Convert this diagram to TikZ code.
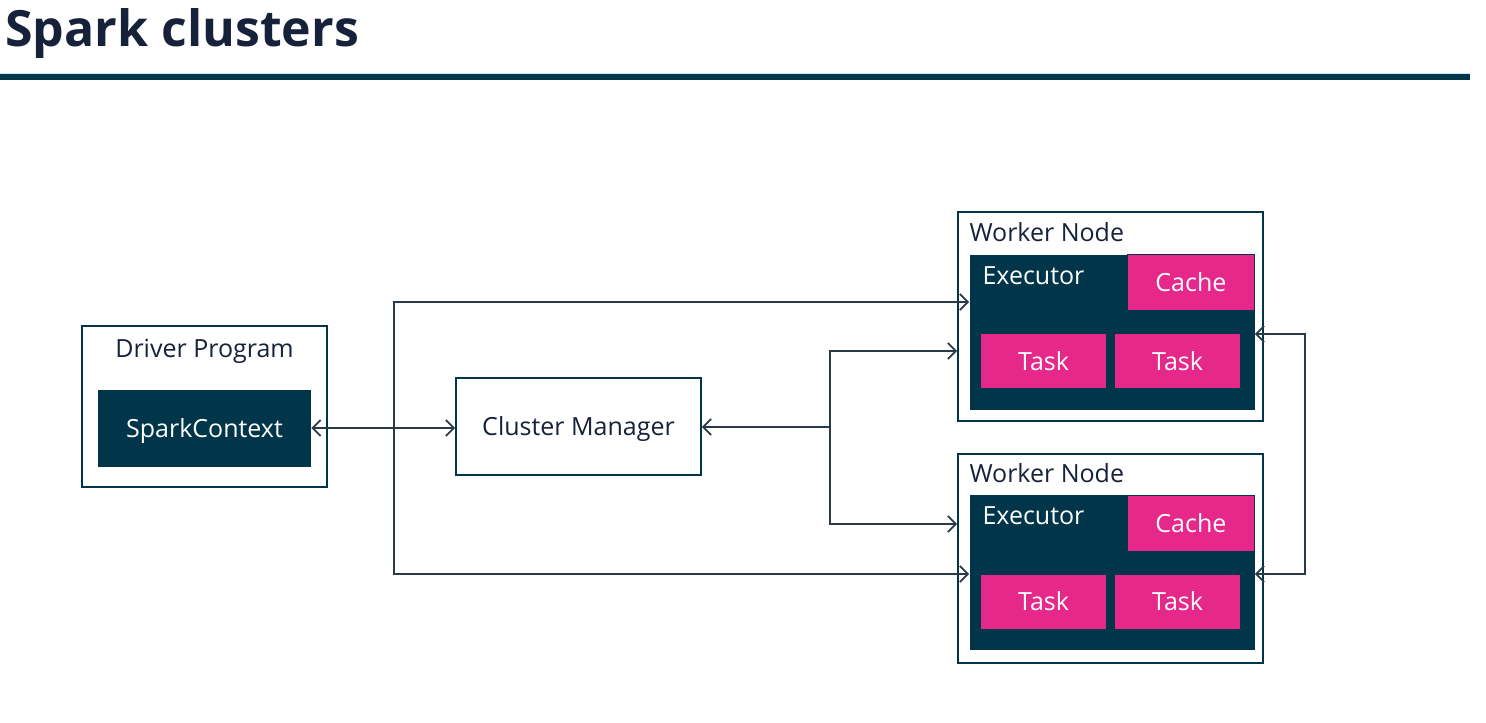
\documentclass[tikz,border=0pt]{standalone}
\usepackage{fontspec}
\setmainfont{Open Sans}
\usetikzlibrary{positioning,calc,arrows.meta}
\definecolor{sparkteal}{HTML}{01364A}
\definecolor{sparkpink}{HTML}{E6288A}
\definecolor{titlenavy}{HTML}{16213A}
\definecolor{linegray}{HTML}{2B3A46}
\tikzset{
    every node/.style={font=\fontsize{12.5}{15}\selectfont},
    outerbox/.style={draw=sparkteal, line width=0.9pt, fill=white, inner sep=0pt, text=titlenavy,
        text height=9pt, text depth=0pt},
    darkbox/.style={fill=sparkteal, text=white, inner sep=0pt, text height=9pt, text depth=0pt},
    pinkbox/.style={fill=sparkpink, draw=sparkteal, line width=0.5pt, text=white, inner sep=0pt,
        minimum width=63pt, minimum height=27.5pt, text height=9pt, text depth=0pt},
    txt/.style={inner sep=0pt, text=titlenavy},
    arrow/.style={>={Straight Barb[length=4pt,width=8pt]}, ->, line width=0.9pt, draw=linegray},
}
\begin{document}
\begin{tikzpicture}[x=0.5pt, y=-0.5pt]
\useasboundingbox (0,0) rectangle (1486,722);
% title and rule under it
\node[txt, anchor=base west, font=\fontsize{25}{30}\selectfont\bfseries] (title) at (5,47) {Spark clusters};
\fill[sparkteal] (0,74) rectangle (1470,80);
\draw[cyan!25, line width=0.5pt] (0,73.5) -- (1470,73.5);

% driver side
\node[outerbox, minimum width=122.5pt, minimum height=80.5pt] (driver) at (204.5,406.5) {};
\node[txt, anchor=base] (driverlbl) at (204.5,357) {Driver Program};
\node[darkbox, minimum width=106.5pt, minimum height=38.5pt] (ctx) at (204.5,428.5) {SparkContext};
\node[outerbox, minimum width=122.5pt, minimum height=48.5pt] (cm) at (578.5,426.5) {Cluster Manager};

% first worker
\node[outerbox, minimum width=152.5pt, minimum height=104.5pt] (w1) at (1110.5,316.5) {};
\node[txt, anchor=base west] (w1lbl) at ($(w1.north west)+(12,30)$) {Worker Node};
\node[darkbox, minimum width=142.5pt, minimum height=77.5pt, anchor=north west] (e1) at ($(w1.north west)+(12,43)$) {};
\node[txt, text=white, anchor=base west] (e1lbl) at ($(e1.north west)+(13,30)$) {Executor};
\node[pinkbox, minimum width=63.5pt, minimum height=28pt, anchor=north east] (c1) at (e1.north east) {Cache};
\node[pinkbox, anchor=north west] (t1a) at ($(e1.north west)+(11,79)$) {Task};
\node[pinkbox, right=3.5pt of t1a] (t1b) {Task};

% second worker, same layout
\node[outerbox, minimum width=152.5pt, minimum height=104.5pt, below=15.5pt of w1] (w2) {};
\node[txt, anchor=base west] (w2lbl) at ($(w2.north west)+(12,30)$) {Worker Node};
\node[darkbox, minimum width=142.5pt, minimum height=77.5pt, anchor=north west] (e2) at ($(w2.north west)+(12,42)$) {};
\node[txt, text=white, anchor=base west] (e2lbl) at ($(e2.north west)+(13,30)$) {Executor};
\node[pinkbox, minimum width=63.5pt, minimum height=28pt, anchor=north east] (c2) at (e2.north east) {Cache};
\node[pinkbox, anchor=north west] (t2a) at ($(e2.north west)+(11,79)$) {Task};
\node[pinkbox, right=3.5pt of t2a] (t2b) {Task};

% branch points and line ends
\coordinate (jl) at (394,428);
\coordinate (jr) at (830,427);
\coordinate (e1in) at (e1.west |- 0,302);
\coordinate (e2in) at (e2.west |- 0,574);
\coordinate (w1in) at (w1.west |- 0,351);
\coordinate (w2in) at (w2.west |- 0,524);
\coordinate (e1out) at (e1.east |- 0,334);
\coordinate (e2out) at (e2.east |- 0,574);
\coordinate (rbot) at (1305,574);

\draw[arrow, <->] (ctx.east |- jl) -- (cm.west |- jl);
\draw[arrow] (jl) |- (e1in);
\draw[arrow] (jl) |- (e2in);
\draw[arrow] (jr) -- (cm.east |- jr);
\draw[arrow] (jr) |- (w1in);
\draw[arrow] (jr) |- (w2in);
\draw[arrow, <->] (e1out) -| (rbot) -- (e2out);
\end{tikzpicture}
\end{document}
